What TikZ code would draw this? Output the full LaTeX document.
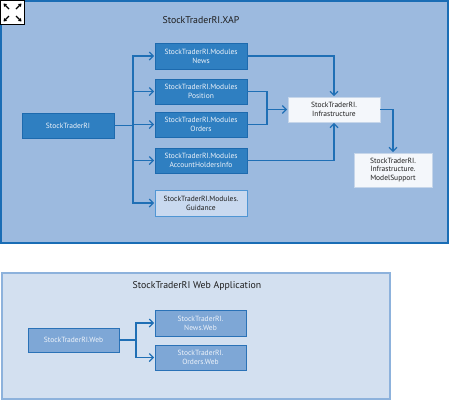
\documentclass[tikz,border=0pt]{standalone}
\usepackage{fontspec}
\setmainfont{PT Sans}
\usetikzlibrary{positioning, arrows.meta}
\definecolor{XapFill}{HTML}{9CBADF}
\definecolor{XapLine}{HTML}{1A6DB5}
\definecolor{ModFill}{HTML}{2F7FC1}
\definecolor{ModLine}{HTML}{1D6AAE}
\definecolor{GuideFill}{HTML}{C9D9EF}
\definecolor{GuideLine}{HTML}{5096D4}
\definecolor{InfraFill}{HTML}{F4F7FB}
\definecolor{InfraLine}{HTML}{C6D6EA}
\definecolor{WebFill}{HTML}{D3E0F0}
\definecolor{WebLine}{HTML}{8DB2DC}
\definecolor{WebModFill}{HTML}{7EA7D6}
\definecolor{WebModLine}{HTML}{2A72B7}
\definecolor{LinkBlue}{HTML}{1F6FB5}
\definecolor{InkDark}{HTML}{1E1E1E}
\definecolor{InkLight}{HTML}{EEF3FA}

\begin{document}
\begin{tikzpicture}[x=1pt, y=-1pt,
  modbox/.style={rectangle, draw=ModLine, fill=ModFill, text=InkLight, line width=0.8pt,
              minimum height=25pt, minimum width=92pt, align=center, inner sep=1pt,
              font=\fontsize{7.5}{8.8}\selectfont},
  guidebox/.style={modbox, draw=GuideLine, fill=GuideFill, text=InkDark},
  infrabox/.style={modbox, draw=InfraLine, fill=InfraFill, text=InkDark},
  webbox/.style={modbox, draw=WebModLine, fill=WebModFill, minimum width=91pt},
  link/.style={LinkBlue, line width=1.3pt},
  arrow/.style={link, -{Straight Barb[length=4pt, width=8pt, line width=1.2pt]}, shorten >=0.5pt},
  title/.style={text=InkDark, font=\fontsize{9.8}{11.5}\selectfont}
]
  \useasboundingbox (0,0) rectangle (449,400);
  % XAP frame
  \draw[XapLine, fill=XapFill, line width=1.6pt] (1,1) rectangle (448,243);
  \node[title] (xaptitle) at (201,20) {StockTraderRI.XAP};
  % expand icon
  \draw[black, fill=white, line width=0.8pt] (0.4,0.4) rectangle (24.5,24.5);
  \foreach \sx/\sy in {1/1, 1/-1, -1/1, -1/-1} {
    \draw[black, line width=1.1pt, -{Triangle[length=3pt, width=4pt]}]
      (12.5+3.5*\sx, 12.5+3.5*\sy) -- (12.5+9*\sx, 12.5+9*\sy);
  }

  \node[modbox] (shell) at (68,125.5) {StockTraderRI};
  \node[modbox, minimum height=26pt] (news) at (201,56) {StockTraderRI.Modules\\News};
  \node[modbox] (position) at (201,91.5) {StockTraderRI.Modules\\Position};
  \node[modbox] (orders) at (201,124.5) {StockTraderRI.Modules\\Orders};
  \node[modbox] (holders) at (201,160.5) {StockTraderRI.Modules\\AccountHoldersInfo};
  \node[guidebox, minimum height=26pt] (guidance) at (201,203) {StockTraderRI.Modules.\\Guidance};
  \node[infrabox] (infra) at (334,109.5) {StockTraderRI.\\Infrastructure};
  \node[infrabox, minimum width=78pt, minimum height=34pt] (model) at (393,170)
    {StockTraderRI.\\Infrastructure.\\ModelSupport};

  \coordinate (split) at (133,125.5);
  \coordinate (merge) at (267,109.5);
  \draw[link] (shell.east) -- (split);
  \foreach \target in {news, position, orders, holders, guidance} {
    \draw[arrow] (split) |- (\target.west);
  }
  \draw[arrow] (news.east) -| (infra.north);
  \draw[link] (position.east) -| (merge);
  \draw[link] (orders.east) -| (merge);
  \draw[arrow] (merge) -- (infra.west);
  \draw[arrow] (holders.east) -| (infra.south);
  \draw[arrow] (infra.east) -| (model.north);

  % web application frame
  \draw[WebLine, fill=WebFill, line width=1.2pt] (2,273) rectangle (390,399);
  \node[title] (webtitle) at (197,286) {StockTraderRI Web Application};
  \node[webbox, minimum height=24pt] (web) at (73.5,340) {StockTraderRI.Web};
  \node[webbox, minimum height=26pt] (newsweb) at (200.5,323) {StockTraderRI.\\News.Web};
  \node[webbox] (ordersweb) at (200.5,357.5) {StockTraderRI.\\Orders.Web};
  \coordinate (websplit) at (136,340);
  \draw[link] (web.east) -- (websplit);
  \draw[arrow] (websplit) |- (newsweb.west);
  \draw[arrow] (websplit) |- (ordersweb.west);
\end{tikzpicture}
\end{document}
